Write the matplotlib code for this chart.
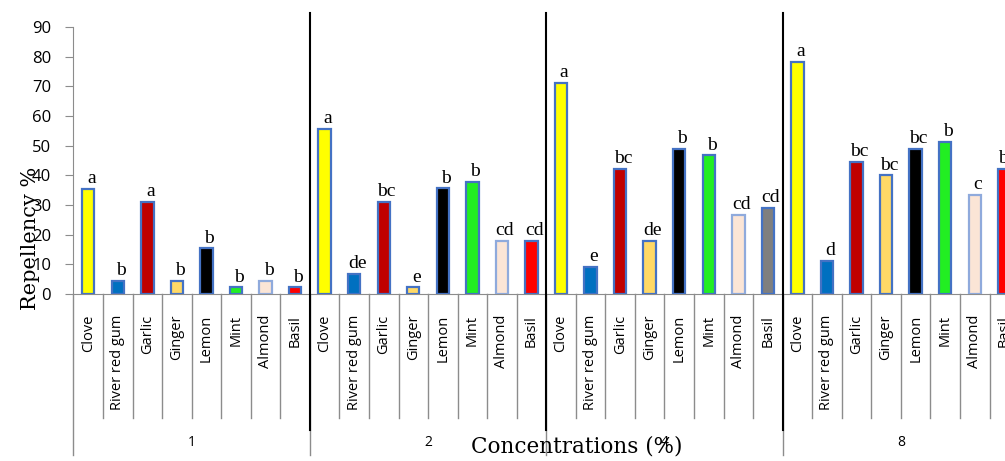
import numpy as np
import matplotlib.pyplot as plt

oils = ["Clove", "River red gum", "Garlic", "Ginger", "Lemon", "Mint", "Almond", "Basil"]
concentrations = ["1", "2", "4", "8"]

rep_1 = [35.5, 4.4, 31.1, 4.4, 15.4, 2.2, 4.4, 2.2]
rep_2 = [55.7, 6.7, 31.1, 2.2, 35.6, 37.9, 17.9, 17.9]
rep_4 = [71.2, 9.0, 42.2, 17.9, 49.0, 46.7, 26.6, 28.9]
rep_8 = [78.1, 11.1, 44.4, 40.0, 49.0, 51.2, 33.3, 42.2]

let_1 = ["a", "b", "a", "b", "b", "b", "b", "b"]
let_2 = ["a", "de", "bc", "e", "b", "b", "cd", "cd"]
let_4 = ["a", "e", "bc", "de", "b", "b", "cd", "cd"]
let_8 = ["a", "d", "bc", "bc", "bc", "b", "c", "bc"]

oil_colors = ["#FFFF00", "#0070C0", "#C00000", "#FFD966", "#000000", "#22EE22", "#FBE5D6", "#FF0000"]

values = [rep_1, rep_2, rep_4, rep_8]
letters = [let_1, let_2, let_4, let_8]

fig = plt.figure(figsize=(10.05, 4.61), dpi=100)
ax = fig.add_axes([0.0731, 0.3623, 0.9409, 0.5792])

gray = "#8C8C8C"
n = len(oils)
for g in range(len(concentrations)):
    cols = list(oil_colors)
    if g == 2:
        cols[7] = "#7F7F7F"  # basil is grey at 4%
    for i in range(n):
        x = g * n + i
        edge = "#8FAADC" if oils[i] == "Almond" else "#4472C4"
        ax.bar(x, values[g][i], width=0.42, color=cols[i], edgecolor=edge, linewidth=1.6, zorder=3)
        ax.text(x + 0.1, values[g][i] + 0.6, letters[g][i], ha="center", va="bottom",
                fontsize=14, family="Liberation Serif", zorder=4)

ax.set_xlim(-0.5, len(concentrations) * n - 0.5)
ax.set_ylim(0, 90)
ax.set_yticks(np.arange(0, 91, 10))
ax.tick_params(axis="y", length=6, color=gray, labelsize=12, pad=10)
for t in ax.get_yticklabels():
    t.set_family("Open Sans")

ax.set_xticks(np.arange(len(concentrations) * n))
ax.set_xticklabels(oils * len(concentrations), rotation=90, fontsize=10.5, family="Open Sans")
ax.tick_params(axis="x", length=0, pad=15)

for s in ["top", "right"]:
    ax.spines[s].set_visible(False)
ax.spines["left"].set_color(gray)
ax.spines["bottom"].set_color(gray)

tr = ax.get_xaxis_transform()
for k in range(len(concentrations) * n + 1):
    xb = k - 0.5
    if k % n == 0:
        ax.plot([xb, xb], [0, -0.603], transform=tr, color=gray, lw=1, clip_on=False)
    else:
        ax.plot([xb, xb], [0, -0.464], transform=tr, color=gray, lw=1, clip_on=False)

for g in range(1, len(concentrations)):
    xb = g * n - 0.5
    ax.plot([xb, xb], [1.052, -0.51], transform=tr, color="black", lw=1.5, clip_on=False, zorder=5)

for g, c in enumerate(concentrations):
    ax.text(g * n + (n - 1) / 2, -0.558, c, transform=tr, ha="center", va="center",
            fontsize=10, family="Open Sans", zorder=6)

fig.text(0.574, 0.0174, "Concentrations (%)", ha="center", va="baseline",
         fontsize=15.5, family="DejaVu Serif")
fig.text(0.030, 0.484, "Repellency %", ha="center", va="center", rotation=90,
         fontsize=15, family="DejaVu Serif")

fig.savefig("out.png", dpi=100)
